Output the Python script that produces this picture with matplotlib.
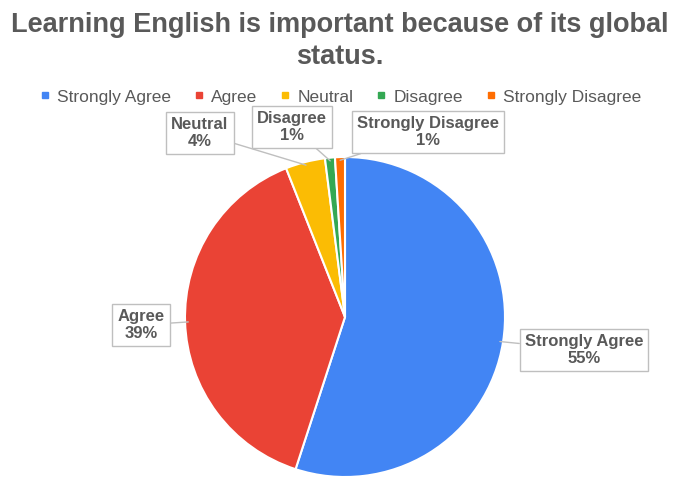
import numpy as np
import matplotlib.pyplot as plt

plt.rcParams['font.family'] = ['Liberation Sans', 'DejaVu Sans']

# survey responses
categories = ['Strongly Agree', 'Agree', 'Neutral', 'Disagree', 'Strongly Disagree']
shares = [55, 39, 4, 1, 1]
colors = ['#4285F4', '#EA4335', '#FBBC04', '#34A853', '#FF6D01']

# label box centres in figure pixels (from bottom-left)
label_pos = [(584, 133), (141, 158), (200, 350), (292, 356), (428, 351)]

fig = plt.figure(figsize=(6.79, 4.83), dpi=100)
fig.text(0.5, 1 - 41 / 483, 'Learning English is important because of its global\nstatus.',
         ha='center', va='center', fontsize=19.5, fontweight='bold', color='#595959',
         linespacing=1.25)

ax = fig.add_axes([185 / 679, 6 / 483, 320 / 679, 320 / 483])
wedges, _ = ax.pie(shares, colors=colors, startangle=90, counterclock=False,
                   wedgeprops=dict(edgecolor='white', linewidth=1.5))
ax.set_xlim(-1, 1)
ax.set_ylim(-1, 1)
ax.set_aspect('equal')

for w, cat, val, pos in zip(wedges, categories, shares, label_pos):
    mid = np.deg2rad((w.theta1 + w.theta2) / 2)
    tip = (0.98 * np.cos(mid), 0.98 * np.sin(mid))
    ax.annotate(f'{cat}\n{val}%', xy=tip, xycoords='data',
                xytext=pos, textcoords='figure pixels',
                ha='center', va='center', fontsize=12, fontweight='bold',
                color='#595959', linespacing=1.2,
                bbox=dict(boxstyle='square,pad=0.3', fc='white', ec='#BFBFBF', lw=1),
                arrowprops=dict(arrowstyle='-', color='#BFBFBF', lw=1,
                                shrinkA=0, shrinkB=0))

# legend row under the title
handles = [plt.Line2D([], [], marker='s', linestyle='', markersize=4,
                      color=c) for c in colors]
fig.legend(handles, categories, loc='center',
           bbox_to_anchor=(0.5, 1 - 97 / 483), ncol=5, frameon=False,
           fontsize=12.5, handlelength=0.8, handletextpad=0.3,
           columnspacing=1.2, labelcolor='#595959')

fig.savefig('out.png', dpi=100)
